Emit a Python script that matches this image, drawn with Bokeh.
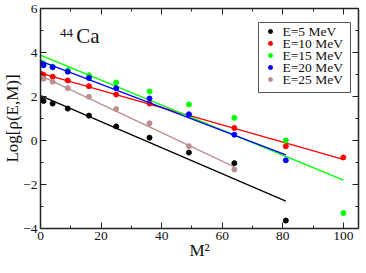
import numpy as np
from bokeh.plotting import figure
from bokeh.models import (LinearAxis, Range1d, Label, FixedTicker, CustomLabelingPolicy)
from bokeh.core.properties import value
from bokeh.embed import file_html
from bokeh.resources import INLINE

# ---- data ----
m2 = [0, 1, 4, 9, 16, 25, 36, 49, 64, 81, 100]
series_names = ["E=5 MeV", "E=10 MeV", "E=15 MeV", "E=20 MeV", "E=25 MeV"]
colors = ["#000000", "#ff0000", "#00ff00", "#0000ff", "#bc8f8f"]
e5 = [1.88, 1.80, 1.68, 1.45, 1.13, 0.64, 0.13, -0.55, -1.03, -3.64]
e10 = [3.04, 2.99, 2.90, 2.73, 2.47, 2.09, 1.68, 1.17, 0.57, -0.26, -0.77]
e15 = [3.57, 3.50, 3.36, 3.19, 2.97, 2.64, 2.23, 1.64, 1.03, 0.00, -3.30]
e20 = [3.50, 3.42, 3.33, 3.13, 2.84, 2.38, 1.91, 1.19, 0.26, -0.90]
e25 = [2.84, 2.81, 2.67, 2.38, 1.99, 1.43, 0.78, -0.26, -1.32]
series = [e5, e10, e15, e20, e25]
x_ticks = [0, 20, 40, 60, 80, 100]
x_minor = [10, 30, 50, 70, 90]
y_ticks = [-4, -2, 0, 2, 4, 6]
y_minor = [-3, -1, 1, 3, 5]

FONT = "Liberation Serif"
TXT = "#111111"
X0, X1, Y0, Y1 = 0, 105, -4, 6
FW, FH = 318, 220

p = figure(frame_width=FW, frame_height=FH, x_range=Range1d(X0, X1), y_range=Range1d(Y0, Y1),
           output_backend="svg", toolbar_location=None,
           x_axis_label="M\u00b2", y_axis_label="Log[\u03c1(E,M)]",
           min_border_left=0, min_border_right=1, min_border_top=8, min_border_bottom=0)
p.grid.visible = False
p.outline_line_color = None
p.background_fill_color = "white"
p.border_fill_color = "white"

no_labels = CustomLabelingPolicy(code="""
for (const i of Array.from(indices)) { indices.unset(i) }
return indices
""")


def style_axis(ax, ticks, minor, labels=True):
    ax.ticker = FixedTicker(ticks=ticks, minor_ticks=minor)
    ax.major_tick_in = 6
    ax.major_tick_out = 0
    ax.minor_tick_in = 3
    ax.minor_tick_out = 0
    ax.axis_line_width = 1.5
    ax.axis_line_color = "#222222"
    ax.major_tick_line_color = "#222222"
    ax.minor_tick_line_color = "#222222"
    ax.major_label_text_font = FONT
    ax.major_label_text_color = TXT
    ax.axis_label_text_font = FONT
    ax.axis_label_text_font_style = "normal"
    ax.axis_label_text_color = TXT
    if labels:
        ax.major_label_text_font_size = "13.5px"
        ax.major_label_standoff = 3
        ax.axis_label_standoff = -2
    else:
        ax.axis_label = None
        ax.major_label_text_font_size = "1px"
        ax.major_label_standoff = 0
        ax.major_label_policy = no_labels


style_axis(p.xaxis[0], x_ticks, x_minor)
style_axis(p.yaxis[0], y_ticks, y_minor)
p.xaxis[0].axis_label_text_font_size = "17px"
p.yaxis[0].axis_label_text_font_size = "17px"

top = LinearAxis()
style_axis(top, x_ticks, x_minor, labels=False)
p.add_layout(top, "above")
right = LinearAxis()
style_axis(right, y_ticks, y_minor, labels=False)
p.add_layout(right, "right")

for name, col, ys in zip(series_names, colors, series):
    xs = m2[:len(ys)]
    coef = np.polyfit(xs, ys, 1)
    lx = [xs[0], xs[-1]]
    ly = list(np.polyval(coef, lx))
    p.line(lx, ly, line_color=col, line_width=1.3)
    p.scatter(xs, ys, size=5, fill_color=col, line_color=col)

# ---- legend box (drawn in pixel offsets from the frame's top-right) ----
sx = FW / (X1 - X0)
sy = FH / (Y1 - Y0)
box_w, box_h, gap_r, gap_t, row_h = 92, 70, 8, 14, 12
bx_r = X1 - gap_r / sx
bx_l = bx_r - box_w / sx
by_t = Y1 - gap_t / sy
by_b = by_t - box_h / sy
p.quad(left=[bx_l], right=[bx_r], top=[by_t], bottom=[by_b], fill_color="white",
       line_color="#555555", line_width=1)
n = len(series_names)
ry = [by_t - (9 + row_h * i) / sy for i in range(n)]
p.scatter([bx_l + 12 / sx] * n, ry, size=4, fill_color=colors, line_color=colors)
p.text([bx_l + 24 / sx] * n, ry, text=series_names, text_font=value(FONT),
       text_font_size="13.5px", text_baseline="middle", text_color=TXT)

# nucleus annotation
p.add_layout(Label(x=6.4, y=4.70, text="44", text_font=FONT, text_font_size="13px",
                   text_color=TXT))
p.add_layout(Label(x=11.8, y=4.19, text="Ca", text_font=FONT, text_font_size="21px",
                   text_color=TXT))

open("out.html", "w").write(file_html(p, INLINE))
